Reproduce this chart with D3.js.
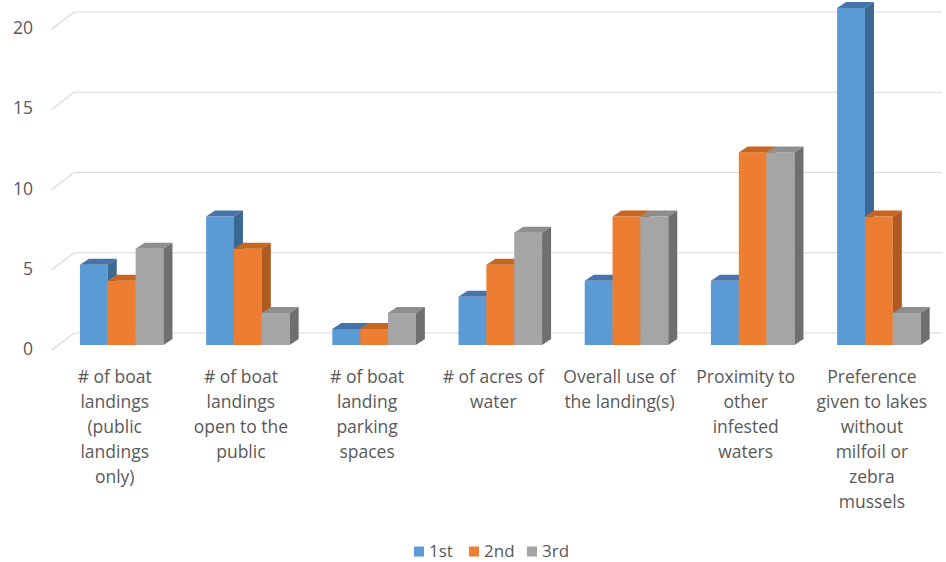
<!DOCTYPE html>
<html>
<head>
<meta charset="utf-8">
<script src="https://cdn.jsdelivr.net/npm/d3@7"></script>
<style>
  html, body { margin: 0; padding: 0; background: #fff; }
  svg { display: block; font-family: "Open Sans", "Liberation Sans", sans-serif; }
</style>
</head>
<body>
<svg id="chart" width="946" height="562"></svg>
<script>
// ---- data ----
const categories = [
  "# of boat landings (public landings only)",
  "# of boat landings open to the public",
  "# of boat landing parking spaces",
  "# of acres of water",
  "Overall use of the landing(s)",
  "Proximity to other infested waters",
  "Preference given to lakes without milfoil or zebra mussels"
];
const categoryLines = [
  ["# of boat", "landings", "(public", "landings", "only)"],
  ["# of boat", "landings", "open to the", "public"],
  ["# of boat", "landing", "parking", "spaces"],
  ["# of acres of", "water"],
  ["Overall use of", "the landing(s)"],
  ["Proximity to", "other", "infested", "waters"],
  ["Preference", "given to lakes", "without", "milfoil or", "zebra", "mussels"]
];
const seriesNames = ["1st", "2nd", "3rd"];
const values1st = [5, 8, 1, 3, 4, 4, 21];
const values2nd = [4, 6, 1, 5, 8, 12, 8];
const values3rd = [6, 2, 2, 7, 8, 12, 2];
const yTicks = [0, 5, 10, 15, 20];

const seriesValues = [values1st, values2nd, values3rd];
const frontColors = ["#5B9BD5", "#ED7D31", "#A5A5A5"];
const topColors   = ["#4674A8", "#C8651F", "#8E8E8E"];
const sideColors  = ["#3B6893", "#AE5A21", "#6F6F6F"];

const svg = d3.select("#chart");

// scales
const yBar   = d3.scaleLinear().domain([0, 20]).range([345, 24]);   // bar front plane
const yBack  = d3.scaleLinear().domain([0, 20]).range([333, 12]);   // back wall
const yFront = d3.scaleLinear().domain([0, 20]).range([350, 29]);   // axis front edge
const x0 = d3.scaleBand().domain(d3.range(categories.length))
  .range([58.6, 942]).paddingInner(0.338).paddingOuter(0.169);
const x1 = d3.scaleBand().domain(d3.range(seriesNames.length))
  .range([0, x0.bandwidth()]);

const dx = 9, dy = -6;
const textColor = "#595959";
const fontSize = 17.5;

// gridlines (back wall + slanted side-floor edge)
const grid = svg.append("g");
yTicks.forEach(v => {
  grid.append("path")
    .attr("d", `M52,${yFront(v)} L74,${yBack(v)} L942,${yBack(v)}`)
    .attr("fill", "none")
    .attr("stroke", "#D9D9D9")
    .attr("stroke-width", 1.2);
});

// y tick labels
svg.append("g").selectAll("text").data(yTicks).join("text")
  .attr("x", 33)
  .attr("y", d => yFront(d) - 1)
  .attr("dy", "0.35em")
  .attr("text-anchor", "end")
  .attr("font-size", fontSize)
  .attr("fill", textColor)
  .text(d => d);

// bars
const bars = svg.append("g");
categories.forEach((c, ci) => {
  seriesValues.forEach((vals, si) => {
    const v = vals[ci];
    const x = x0(ci) + x1(si);
    const w = x1.bandwidth();
    const yt = yBar(v), yb = yBar(0);
    const g = bars.append("g");
    g.append("rect")
      .attr("x", x).attr("y", yt)
      .attr("width", w).attr("height", yb - yt)
      .attr("fill", frontColors[si]);
    g.append("path")
      .attr("d", `M${x},${yt} L${x + dx},${yt + dy} L${x + w + dx},${yt + dy} L${x + w},${yt} Z`)
      .attr("fill", topColors[si]);
    g.append("path")
      .attr("d", `M${x + w},${yt} L${x + w + dx},${yt + dy} L${x + w + dx},${yb + dy} L${x + w},${yb} Z`)
      .attr("fill", sideColors[si]);
  });
});

// category labels
const labels = svg.append("g");
categoryLines.forEach((lines, ci) => {
  const cx = x0(ci) + x0.bandwidth() / 2 - 7;
  const t = labels.append("text")
    .attr("text-anchor", "middle")
    .attr("font-size", fontSize)
    .attr("fill", textColor);
  lines.forEach((ln, li) => {
    t.append("tspan").attr("x", cx).attr("y", 383 + li * 25).text(ln);
  });
});

// legend
const legendX = [414, 469, 527];
const legend = svg.append("g");
seriesNames.forEach((n, i) => {
  legend.append("rect")
    .attr("x", legendX[i]).attr("y", 546.5)
    .attr("width", 10).attr("height", 10)
    .attr("fill", frontColors[i]);
  legend.append("text")
    .attr("x", legendX[i] + 15).attr("y", 557)
    .attr("font-size", 17)
    .attr("fill", textColor)
    .text(n);
});
</script>
</body>
</html>
